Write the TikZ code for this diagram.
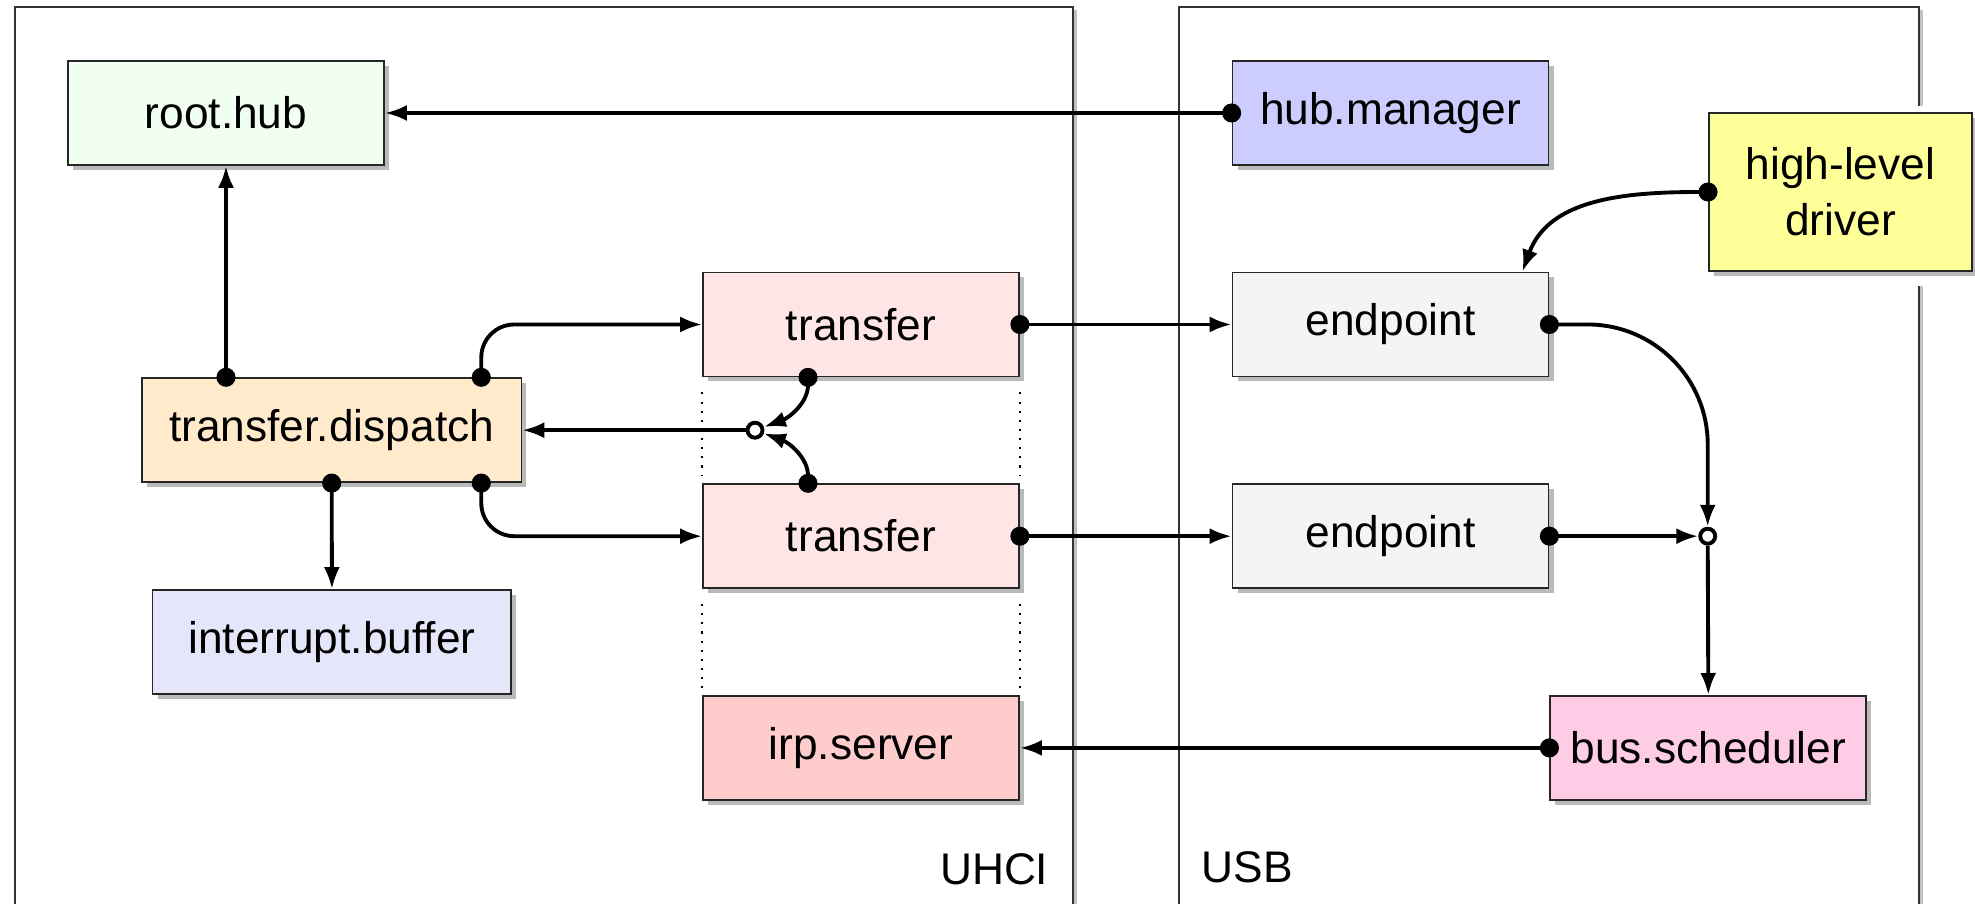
\documentclass[tikz,border=0pt]{standalone}
\usepackage{fontspec}
\setmainfont{Liberation Sans}
\usetikzlibrary{arrows.meta,shadows}

\definecolor{roothub}{HTML}{F0FFF0}
\definecolor{hubmgr}{HTML}{CCCCFF}
\definecolor{hldrv}{HTML}{FFFF99}
\definecolor{endpt}{HTML}{F4F4F4}
\definecolor{xfer}{HTML}{FFE6E6}
\definecolor{dispatch}{HTML}{FFEBCC}
\definecolor{intbuf}{HTML}{E6E6FA}
\definecolor{irpsrv}{HTML}{FFCCCC}
\definecolor{sched}{HTML}{FFCCE6}

\begin{document}
\begin{tikzpicture}[
        >={Latex[length=2.2mm,width=1.6mm]},
        box/.style={draw=black!85, line width=0.5pt, minimum width=3.16cm, minimum height=1.04cm,
            inner sep=0pt, align=center, font=\fontsize{12.6}{16}\selectfont,
            drop shadow={shadow xshift=0.05cm, shadow yshift=-0.05cm, fill=black!45, opacity=0.6}},
        zone/.style={draw=black!80, line width=0.5pt, fill=white,
            drop shadow={shadow xshift=0.04cm, shadow yshift=-0.03cm, fill=black!30, opacity=0.8}},
        link/.style={->, line width=1.1pt},
        src/.style={{Circle[length=1.9mm]}->, line width=1.1pt, shorten <=-0.95mm},
        joint/.style={circle, draw, fill=white, line width=1.1pt, inner sep=0pt, minimum size=0.15cm},
        tag/.style={inner sep=0pt, font=\fontsize{12.6}{16}\selectfont}
    ]
        \useasboundingbox (0,0) rectangle (19.75,9.04);

        \draw[zone] (0.147,-1) rectangle (10.727,8.967);
        \draw[zone] (11.789,-1) rectangle (19.192,8.967);
        \fill[white] (17.02,6.18) rectangle (19.75,7.975);

        \node[tag, anchor=base east] (uhci) at (10.49,0.19) {UHCI};
        \node[tag, anchor=base west] (usb) at (12.01,0.21) {USB};

        \node[box, fill=roothub] (roothub) at (2.26,7.91) {root.hub};
        \node[box, fill=hubmgr] (hubmgr) at (13.905,7.91) {hub.manager};
        \node[box, fill=hldrv, minimum width=2.63cm, minimum height=1.574cm] (driver) at (18.404,7.12) {high-level\\driver};
        \node[box, fill=xfer] (xfer1) at (8.61,5.795) {transfer};
        \node[box, fill=endpt] (endp1) at (13.905,5.795) {endpoint};
        \node[box, fill=dispatch, minimum width=3.794cm] (disp) at (3.317,4.738) {transfer.dispatch};
        \node[box, fill=xfer] (xfer2) at (8.61,3.678) {transfer};
        \node[box, fill=endpt] (endp2) at (13.905,3.678) {endpoint};
        \node[box, fill=intbuf, minimum width=3.587cm] (intbuf) at (3.319,2.62) {interrupt.buffer};
        \node[box, fill=irpsrv] (irp) at (8.61,1.561) {irp.server};
        \node[box, fill=sched] (sched) at (17.083,1.561) {bus.scheduler};

        \node[joint] (j1) at (7.55,4.738) {};
        \node[joint] (j2) at (17.077,3.678) {};

        \foreach \a/\b in {xfer1/xfer2, xfer2/irp} {
            \draw[dotted, line width=0.6pt] ([yshift=-0.15cm]\a.south west) -- ([yshift=0.07cm]\b.north west);
            \draw[dotted, line width=0.6pt] ([yshift=-0.15cm]\a.south east) -- ([yshift=0.07cm]\b.north east);
        }

        \draw[src] (hubmgr.west) -- (roothub.east);
        \draw[src] (roothub.south |- disp.north) -- (roothub.south);
        \draw[src, rounded corners=0.33cm] ([xshift=-0.41cm]disp.north east) |- (xfer1.west);
        \draw[src, rounded corners=0.33cm] ([xshift=-0.41cm]disp.south east) |- (xfer2.west);
        \draw[src] (disp.south) -- (intbuf.north);
        \draw[src] ([xshift=-0.53cm]xfer1.south) to[out=-90, in=20] (j1);
        \draw[src] ([xshift=-0.53cm]xfer2.north) to[out=90, in=-20] (j1);
        \draw[link] (j1) -- (disp.east);
        \draw[src] (xfer1.east) -- (endp1.west);
        \draw[src] (xfer2.east) -- (endp2.west);
        \draw[src] (driver.west) to[out=180, in=70] ([xshift=-0.27cm]endp1.north east);
        \draw[src, rounded corners=1.2cm] (endp1.east) -| (j2);
        \draw[src] (endp2.east) -- (j2);
        \draw[link] (j2) -- (sched.north);
        \draw[src] (sched.west) -- (irp.east);
    \end{tikzpicture}
\end{document}
